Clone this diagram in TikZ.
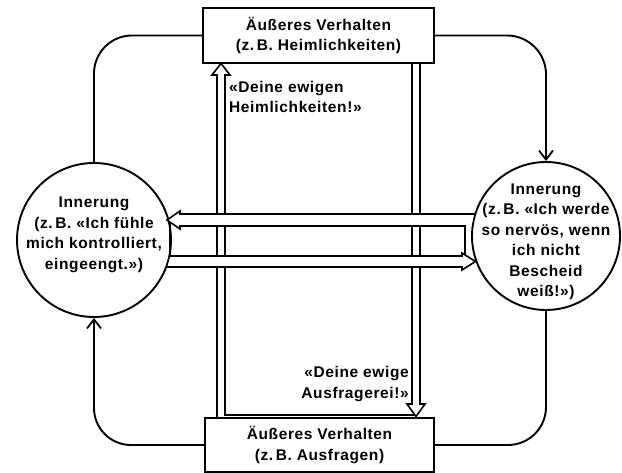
\documentclass[tikz,border=0pt]{standalone}
\usepackage{fontspec}
\setmainfont{Liberation Sans}[LetterSpace=4]
\usetikzlibrary{arrows.meta}
\begin{document}
\begin{tikzpicture}[x=1pt,y=-1pt,
  every node/.style={font=\fontsize{15.5}{20.5}\selectfont\bfseries},
  box/.style={draw, line width=1.9pt, align=center, inner sep=0pt},
  circ/.style={draw, circle, line width=1.9pt, inner sep=0pt},
  txt/.style={align=center, inner sep=0pt},
  conn/.style={line width=1.9pt},
  tipped/.style={-{Straight Barb[length=9pt,width=14pt,line width=1.8pt]}},
  dbl/.style={line width=1.6pt, line join=miter},
]
\useasboundingbox (0,0) rectangle (622,473);

% boxes and circles
\node[box, minimum width=231pt, minimum height=55pt] (T) at (318.5,35.5) {Äußeres Verhalten\\(z.\,B. Heimlichkeiten)};
\node[box, minimum width=229pt, minimum height=54pt] (B) at (319.5,445) {Äußeres Verhalten\\(z.\,B. Ausfragen)};
\node[circ, minimum size=154pt] (L) at (94,240) {};
\node[circ, minimum size=148pt] (R) at (546,236) {};

% texts
\node[txt] (Lt) at (94,235) {Innerung\\(z.\,B. «Ich fühle\\mich kontrolliert,\\eingeengt.»)};
\node[txt] (Rt) at (546,242) {Innerung\\(z.\,B. «Ich werde\\so nervös, wenn\\ich nicht\\Bescheid\\weiß!»)};
\node[txt, align=left, anchor=west] (A1) at (229,97) {«Deine ewigen\\Heimlichkeiten!»};
\node[txt, align=right, anchor=east] (A2) at (409,384) {«Deine ewige\\Ausfragerei!»};

% outer cycle connectors
\draw[conn, rounded corners=38pt] (T.west) -| (L.north);
\draw[conn, tipped, rounded corners=39pt] (T.east) -| (R.north);
\draw[conn, rounded corners=38pt] (R.south) |- (B.east);
\draw[conn, tipped, rounded corners=37pt] (B.west) -| (L.south);

% vertical double arrows
\draw[dbl] (217,418) -- (217,75) -- (212,75) -- (221,63.5) -- (230,75) -- (225,75) -- (225,415) -- (414.5,415);
\draw[dbl] (420,63) -- (420,404) -- (425,404) -- (416,416.5) -- (407,404) -- (412,404) -- (412,63);

% horizontal double arrows (over the vertical ones)
\fill[white] (474,214) -- (180,214) -- (180,211) -- (167,220) -- (180,229) -- (180,226) -- (471.5,226) -- cycle;
\fill[white] (170.5,256) -- (462,256) -- (462,253) -- (475,261.5) -- (462,270) -- (462,267) -- (167.5,267) -- cycle;
\draw[dbl] (475.3,214) -- (180,214) -- (180,211) -- (167,220) -- (180,229) -- (180,226) -- (465,226) -- (465,255);
\draw[dbl] (166,267) -- (462,267) -- (462,270) -- (475.5,261.5) -- (462,253) -- (462,256) -- (170,256) -- (170,222);
\end{tikzpicture}
\end{document}
